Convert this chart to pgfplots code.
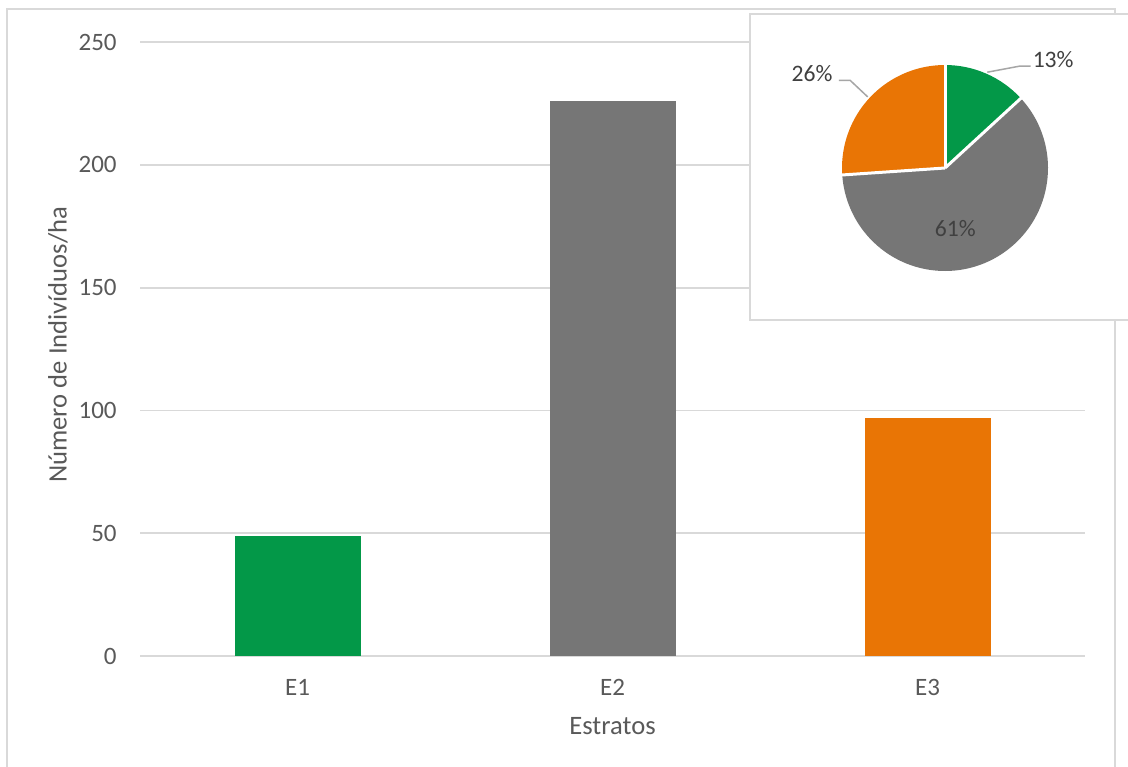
\documentclass[border=0pt]{standalone}
\usepackage{fontspec}
\setmainfont{Carlito}
\usepackage{pgfplots}
\pgfplotsset{compat=1.18}
\definecolor{egreen}{RGB}{3,152,72}
\definecolor{egray}{RGB}{118,118,118}
\definecolor{eorange}{RGB}{233,117,5}
\definecolor{gridgray}{RGB}{217,217,217}
\definecolor{txtgray}{RGB}{89,89,89}
\definecolor{lblgray}{RGB}{64,64,64}
\definecolor{leadgray}{RGB}{166,166,166}
% values (individuals/ha) per stratum
\def\vA{49}\def\vB{226}\def\vC{97}
\begin{document}%
\pgfmathsetmacro{\tot}{\vA+\vB+\vC}%
\pgfmathsetmacro{\aA}{90-360*(\vA/\tot)}%
\pgfmathsetmacro{\aB}{\aA-360*(\vB/\tot)}%
\pgfmathsetmacro{\aC}{\aB-360*(\vC/\tot)}%
\begin{tikzpicture}
\draw[gridgray, line width=0.8pt] (3.5pt,-390pt) -- (3.5pt,-4.5pt) -- (557.5pt,-4.5pt) -- (557.5pt,-390pt);
\begin{axis}[
  at={(70pt,-328pt)}, anchor=south west,
  scale only axis, width=472.5pt, height=307pt,
  xmin=-0.5, xmax=2.5, ymin=0, ymax=250,
  xtick={0,1,2}, xticklabels={E1,E2,E3},
  ytick={0,50,100,150,200,250},
  major tick length=0pt,
  axis line style={draw=none},
  ymajorgrids, grid style={gridgray, line width=0.9pt},
  font=\fontsize{12.5}{15}\selectfont,
  tick label style={txtgray},
  /pgf/number format/assume math mode=true,
  yticklabel style={anchor=east, inner sep=0pt, xshift=-11.5pt},
  xticklabel style={anchor=center, inner sep=0pt, yshift=-15.5pt},
  xlabel={Estratos}, ylabel={Número de Indivíduos/ha},
  every axis x label/.style={at={(axis description cs:0.5,-0.114)}, anchor=center, txtgray, font=\fontsize{13.3}{16}\selectfont},
  every axis y label/.style={at={(axis description cs:-0.0868,0.507)}, rotate=90, anchor=center, txtgray, font=\fontsize{13.3}{16}\selectfont},
  clip=false,
]
\addplot[ybar, bar width=0.4, bar shift=0pt, fill=egreen, draw=none] coordinates {(0,49)};
\addplot[ybar, bar width=0.4, bar shift=0pt, fill=egray, draw=none] coordinates {(1,226)};
\addplot[ybar, bar width=0.4, bar shift=0pt, fill=eorange, draw=none] coordinates {(2,97)};
\end{axis}
\filldraw[fill=white, draw=gridgray, line width=0.8pt] (375pt,-7pt) -- (570pt,-7pt) -- (570pt,-160pt) -- (375pt,-160pt) -- cycle;
\begin{axis}[
  at={(472.5pt,-84pt)}, anchor=center,
  scale only axis, width=103pt, height=103pt,
  xmin=-1, xmax=1, ymin=-1, ymax=1,
  hide axis, clip=false,
  font=\fontsize{11.8}{14}\selectfont,
]
\fill[egreen] (axis cs:0,0) -- ++(90:51.5pt) arc[start angle=90, end angle=\aA, radius=51.5pt] -- cycle;
\fill[egray] (axis cs:0,0) -- ++(\aA:51.5pt) arc[start angle=\aA, end angle=\aB, radius=51.5pt] -- cycle;
\fill[eorange] (axis cs:0,0) -- ++(\aB:51.5pt) arc[start angle=\aB, end angle=\aC, radius=51.5pt] -- cycle;
\draw[white, line width=1.5pt] (axis cs:0,0) -- ++(90:52pt);
\draw[white, line width=1.5pt] (axis cs:0,0) -- ++(\aA:52pt);
\draw[white, line width=1.5pt] (axis cs:0,0) -- ++(\aB:52pt);
\draw[leadgray, line width=0.75pt] (axis cs:0.41,0.93) -- (axis cs:0.73,0.99) -- (axis cs:0.83,0.99);
\draw[leadgray, line width=0.75pt] (axis cs:-1.03,0.85) -- (axis cs:-0.92,0.85) -- (axis cs:-0.75,0.69);
\node[lblgray] at (axis cs:1.05,1.05) {13\%};
\node[lblgray] at (axis cs:-1.29,0.92) {26\%};
\node[lblgray] at (axis cs:0.10,-0.59) {61\%};
\end{axis}
\pgfresetboundingbox
\useasboundingbox (0,0) rectangle (564pt,-383pt);
\end{tikzpicture}%
\end{document}
